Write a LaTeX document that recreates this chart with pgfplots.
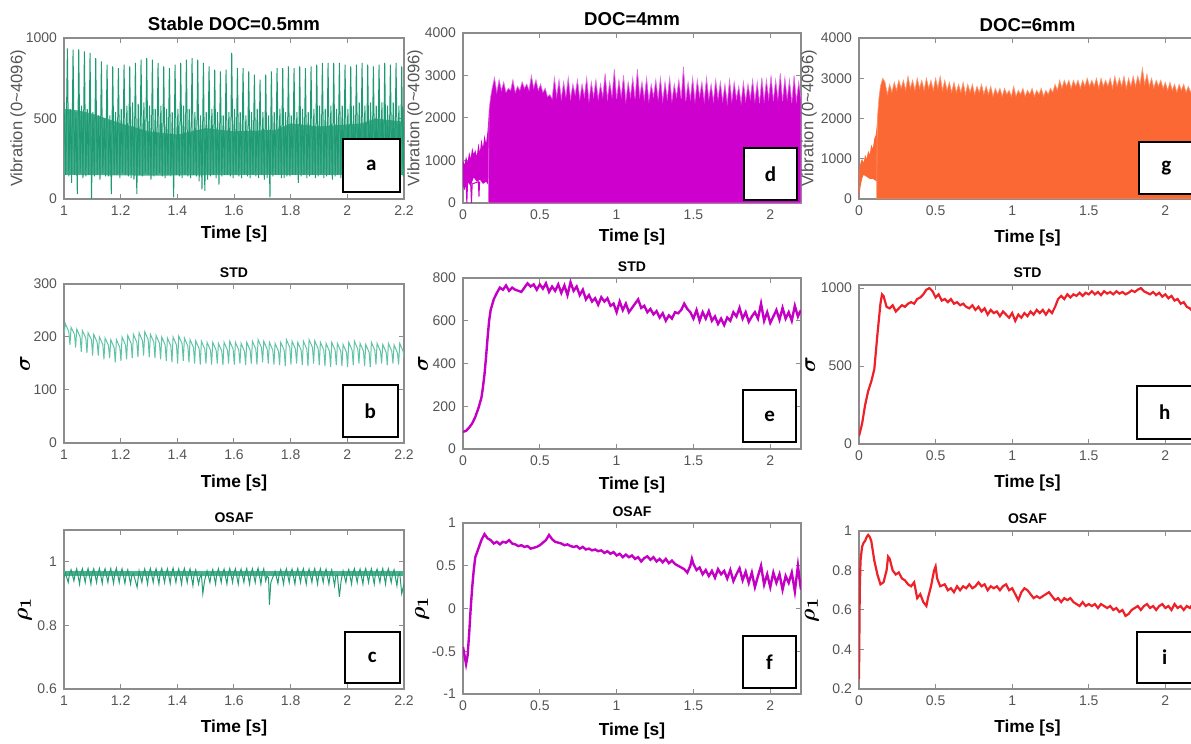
\documentclass[border=0pt]{standalone}
\usepackage{fontspec}
\setmainfont{Liberation Sans}
\newfontfamily\letterfont{Carlito}
\usepackage{amsmath}
\usepackage{pgfplots}
\pgfplotsset{compat=1.18}

\definecolor{axgray}{RGB}{140,140,140}
\definecolor{tickgray}{RGB}{85,85,85}
\definecolor{cA}{RGB}{30,155,115}
\definecolor{cB}{RGB}{95,195,165}
\definecolor{cC}{RGB}{35,155,115}
\definecolor{cD}{RGB}{205,0,205}
\definecolor{cDl}{RGB}{225,110,225}
\definecolor{cE}{RGB}{195,0,195}
\definecolor{cG}{RGB}{252,104,52}
\definecolor{cGl}{RGB}{252,150,110}
\definecolor{cH}{RGB}{238,32,40}

\pgfplotsset{
  every axis title shift=0pt,
  panel/.style={scale only axis, anchor=south west,
    axis line style={draw=axgray, line width=0.6pt},
    tick style={draw=axgray, line width=0.5pt},
    tick align=inside, major tick length=2.5pt,
    tick label style={font=\fontsize{7}{8}\selectfont, text=tickgray},
    /pgf/number format/1000 sep={},
    /pgf/number format/assume math mode=true,
    xlabel={Time [s]},
    xlabel style={font=\bfseries\fontsize{8.7}{10}\selectfont, anchor=center},
    ylabel style={anchor=center},
    title style={font=\bfseries\fontsize{7}{8}\selectfont, anchor=center, yshift=0pt},
  },
  vib/.style={ylabel={Vibration (0\textasciitilde4096)}, ylabel style={font=\fontsize{8.3}{9}\selectfont, text=tickgray},
    title style={font=\bfseries\fontsize{9.3}{11}\selectfont}},
  col1/.style={width=170pt, xmin=1, xmax=2.2, xtick={1,1.2,1.4,1.6,1.8,2,2.2}},
  col2/.style={width=169pt, xmin=0, xmax=2.2, xtick={0,0.5,1,1.5,2}},
  col3/.style={width=168.5pt, xmin=0, xmax=2.2, xtick={0,0.5,1,1.5,2}},
}
\tikzset{lbl/.style={draw=black, line width=1pt, fill=white, inner sep=0pt,
  minimum width=27.5pt, minimum height=26pt, font=\letterfont\bfseries\fontsize{10.5}{12}\selectfont}}

\begin{document}
\begin{tikzpicture}
\path[use as bounding box] (0,0) rectangle (595.5pt,372pt);
\clip (0,0) rectangle (595.5pt,372pt);

% ---------------- a ----------------
\begin{axis}[panel, vib, col1, at={(32pt,272.5pt)}, height=80.5pt,
  ymin=0, ymax=1000, ytick={0,500,1000},
  title={Stable DOC=0.5mm}, title style={at={(axis description cs:0.5,1.087)}},
  ylabel style={at={(axis description cs:-0.135,0.5)}},
  xlabel style={at={(axis description cs:0.5,-0.22)}}]
\addplot[fill=cA!80!white, draw=none] coordinates {(1,150) (1.3,145) (1.7,150) (2.2,150) (2.2,480) (2.1,500) (2.05,470) (1.9,450) (1.8,470) (1.75,430) (1.6,420) (1.5,440) (1.4,400) (1.3,420) (1.2,470) (1.1,530) (1.05,550) (1,560)} -- cycle;
\addplot[cA, line width=0.5pt] coordinates {
(1.000,600)(1.006,150)
(1.012,935)(1.017,140)(1.022,560)(1.027,100)
(1.032,927)(1.037,150)(1.042,540)(1.047,30)
(1.052,930)(1.057,160)(1.062,580)(1.067,130)
(1.072,917)(1.077,140)(1.082,560)(1.087,150)
(1.092,907)(1.097,0)(1.102,540)(1.107,140)
(1.112,875)(1.117,150)(1.122,520)(1.127,120)
(1.132,855)(1.137,160)(1.142,500)(1.147,140)
(1.152,834)(1.157,140)(1.162,520)(1.167,30)
(1.172,824)(1.177,150)(1.182,540)(1.187,150)
(1.192,813)(1.197,130)(1.202,560)(1.207,160)
(1.212,834)(1.217,150)(1.222,580)(1.227,140)
(1.232,824)(1.237,130)(1.242,600)(1.247,120)
(1.252,845)(1.257,30)(1.262,590)(1.267,150)
(1.272,865)(1.277,140)(1.282,600)(1.287,160)
(1.292,875)(1.297,150)(1.302,580)(1.307,120)
(1.312,865)(1.317,140)(1.322,560)(1.327,150)
(1.332,845)(1.337,160)(1.342,580)(1.347,140)
(1.352,824)(1.357,130)(1.362,560)(1.367,150)
(1.372,813)(1.377,140)(1.382,540)(1.387,10)
(1.392,834)(1.397,150)(1.402,560)(1.407,140)
(1.412,845)(1.417,130)(1.422,580)(1.427,150)
(1.432,865)(1.437,140)(1.442,560)(1.447,130)
(1.452,875)(1.457,150)(1.462,540)(1.467,140)
(1.472,865)(1.477,110)(1.482,520)(1.487,60)
(1.492,845)(1.497,50)(1.502,540)(1.507,120)
(1.512,824)(1.517,140)(1.522,560)(1.527,150)
(1.532,803)(1.537,130)(1.542,540)(1.547,90)
(1.552,793)(1.557,140)(1.562,520)(1.567,150)
(1.572,803)(1.577,150)(1.582,540)(1.587,140)
(1.592,907)(1.597,130)(1.602,560)(1.607,150)
(1.612,813)(1.617,140)(1.622,540)(1.627,130)
(1.632,813)(1.637,150)(1.642,520)(1.647,140)
(1.652,793)(1.657,130)(1.662,540)(1.667,150)
(1.672,772)(1.677,140)(1.682,560)(1.687,130)
(1.692,741)(1.697,150)(1.702,540)(1.707,120)
(1.712,772)(1.717,130)(1.722,520)(1.727,10)
(1.732,793)(1.737,140)(1.742,540)(1.747,150)
(1.752,813)(1.757,150)(1.762,560)(1.767,130)
(1.772,813)(1.777,130)(1.782,540)(1.787,140)
(1.792,824)(1.797,140)(1.802,520)(1.807,150)
(1.812,813)(1.817,150)(1.822,540)(1.827,100)
(1.832,824)(1.837,140)(1.842,560)(1.847,150)
(1.852,813)(1.857,130)(1.862,540)(1.867,140)
(1.872,824)(1.877,150)(1.882,560)(1.887,130)
(1.892,834)(1.897,140)(1.902,580)(1.907,150)
(1.912,845)(1.917,130)(1.922,560)(1.927,140)
(1.932,845)(1.937,150)(1.942,580)(1.947,120)
(1.952,845)(1.957,140)(1.962,560)(1.967,150)
(1.972,845)(1.977,130)(1.982,580)(1.987,140)
(1.992,834)(1.997,150)(2.002,560)(2.007,130)
(2.012,824)(2.017,140)(2.022,580)(2.027,150)
(2.032,834)(2.037,130)(2.042,600)(2.047,140)
(2.052,845)(2.057,150)(2.062,580)(2.067,130)
(2.072,834)(2.077,140)(2.082,600)(2.087,150)
(2.092,824)(2.097,130)(2.102,580)(2.107,140)
(2.112,834)(2.117,150)(2.122,600)(2.127,130)
(2.132,845)(2.137,140)(2.142,580)(2.147,150)
(2.152,834)(2.157,130)(2.162,600)(2.167,140)
(2.172,845)(2.177,150)(2.182,580)(2.187,130)
(2.192,824)(2.197,140)(2.200,560)};
\node[lbl, minimum width=28.5pt, minimum height=26.5pt] at (rel axis cs:0.904,0.208) {a};
\end{axis}

% ---------------- b ----------------
\begin{axis}[panel, col1, at={(32pt,150.5pt)}, height=79.5pt,
  ymin=0, ymax=300, ytick={0,100,200,300},
  title={STD}, title style={at={(axis description cs:0.5,1.07)}},
  ylabel={$\boldsymbol{\sigma}$}, ylabel style={font=\fontsize{11}{12}\selectfont, at={(axis description cs:-0.115,0.5)}},
  xlabel style={at={(axis description cs:0.5,-0.25)}}]
\addplot[cB, line width=0.5pt] coordinates {
(1.000,205)
(1.005,225)(1.017,210)(1.021,185)
(1.025,218)(1.037,205)(1.041,180)
(1.045,215)(1.057,200)(1.061,172)
(1.065,212)(1.077,198)(1.081,170)
(1.085,208)(1.097,195)(1.101,165)
(1.105,205)(1.117,190)(1.121,165)
(1.125,200)(1.137,186)(1.141,158)
(1.145,198)(1.157,184)(1.161,160)
(1.165,195)(1.177,180)(1.181,152)
(1.185,195)(1.197,180)(1.201,155)
(1.205,200)(1.217,185)(1.221,158)
(1.225,203)(1.237,188)(1.241,160)
(1.245,205)(1.257,190)(1.261,162)
(1.265,208)(1.277,193)(1.281,165)
(1.285,210)(1.297,195)(1.301,162)
(1.305,205)(1.317,190)(1.321,160)
(1.325,203)(1.337,188)(1.341,158)
(1.345,200)(1.357,185)(1.361,155)
(1.365,198)(1.377,183)(1.381,152)
(1.385,200)(1.397,185)(1.401,150)
(1.405,202)(1.417,187)(1.421,155)
(1.425,198)(1.437,183)(1.441,152)
(1.445,195)(1.457,180)(1.461,150)
(1.465,193)(1.477,178)(1.481,148)
(1.485,192)(1.497,177)(1.501,150)
(1.505,190)(1.517,175)(1.521,148)
(1.525,190)(1.537,175)(1.541,150)
(1.545,188)(1.557,173)(1.561,147)
(1.565,190)(1.577,175)(1.581,150)
(1.585,192)(1.597,177)(1.601,148)
(1.605,190)(1.617,175)(1.621,150)
(1.625,188)(1.637,173)(1.641,147)
(1.645,190)(1.657,175)(1.661,150)
(1.665,192)(1.677,177)(1.681,148)
(1.685,195)(1.697,180)(1.701,152)
(1.705,192)(1.717,177)(1.721,150)
(1.725,190)(1.737,175)(1.741,148)
(1.745,188)(1.757,173)(1.761,147)
(1.765,190)(1.777,175)(1.781,145)
(1.785,195)(1.797,180)(1.801,148)
(1.805,192)(1.817,177)(1.821,150)
(1.825,190)(1.837,175)(1.841,147)
(1.845,192)(1.857,177)(1.861,145)
(1.865,195)(1.877,180)(1.881,150)
(1.885,193)(1.897,178)(1.901,147)
(1.905,190)(1.917,175)(1.921,145)
(1.925,188)(1.937,173)(1.941,143)
(1.945,190)(1.957,175)(1.961,147)
(1.965,188)(1.977,173)(1.981,145)
(1.985,186)(1.997,171)(2.001,143)
(2.005,190)(2.017,175)(2.021,147)
(2.025,192)(2.037,177)(2.041,150)
(2.045,188)(2.057,173)(2.061,145)
(2.065,186)(2.077,171)(2.081,143)
(2.085,190)(2.097,175)(2.101,148)
(2.105,188)(2.117,173)(2.121,150)
(2.125,186)(2.137,171)(2.141,147)
(2.145,188)(2.157,173)(2.161,150)
(2.165,185)(2.177,170)(2.181,148)
(2.185,188)(2.197,173)(2.200,160)};
\node[lbl, minimum width=27.5pt, minimum height=26pt] at (rel axis cs:0.901,0.201) {b};
\end{axis}

% ---------------- c ----------------
\begin{axis}[panel, col1, at={(32pt,27.5pt)}, height=79.5pt,
  ymin=0.6, ymax=1.1, ytick={0.6,0.8,1},
  title={OSAF}, title style={at={(axis description cs:0.5,1.075)}},
  ylabel={$\boldsymbol{\rho_1}$}, ylabel style={font=\fontsize{11}{12}\selectfont, at={(axis description cs:-0.115,0.5)}},
  xlabel style={at={(axis description cs:0.5,-0.245)}}]
\addplot[fill=cC!80!white, draw=none] coordinates {(1,0.955)(2.2,0.955)(2.2,0.972)(1,0.972)} -- cycle;
\addplot[cC, line width=0.5pt] coordinates {
(1.000,0.950)
(1.005,0.965)(1.015,0.935)(1.019,0.960)
(1.025,0.975)(1.035,0.940)(1.039,0.960)
(1.045,0.978)(1.055,0.930)(1.059,0.962)
(1.065,0.978)(1.075,0.935)(1.079,0.960)
(1.085,0.979)(1.095,0.930)(1.099,0.962)
(1.105,0.978)(1.115,0.935)(1.119,0.960)
(1.125,0.979)(1.135,0.932)(1.139,0.962)
(1.145,0.978)(1.155,0.935)(1.159,0.960)
(1.165,0.979)(1.175,0.932)(1.179,0.962)
(1.185,0.980)(1.195,0.935)(1.199,0.960)
(1.205,0.978)(1.215,0.932)(1.219,0.958)
(1.225,0.975)(1.235,0.930)(1.239,0.955)
(1.245,0.962)(1.252,0.940)(1.258,0.920)
(1.265,0.972)(1.275,0.935)(1.279,0.960)
(1.285,0.978)(1.295,0.930)(1.299,0.962)
(1.305,0.979)(1.315,0.935)(1.319,0.960)
(1.325,0.978)(1.335,0.930)(1.339,0.962)
(1.345,0.979)(1.355,0.935)(1.359,0.960)
(1.365,0.978)(1.375,0.932)(1.379,0.962)
(1.385,0.980)(1.395,0.935)(1.399,0.960)
(1.405,0.978)(1.415,0.930)(1.419,0.962)
(1.425,0.979)(1.435,0.935)(1.439,0.960)
(1.445,0.978)(1.455,0.925)(1.459,0.958)
(1.465,0.975)(1.475,0.930)(1.479,0.950)
(1.485,0.960)(1.490,0.900)(1.496,0.940)
(1.505,0.972)(1.515,0.935)(1.519,0.958)
(1.525,0.976)(1.535,0.930)(1.539,0.960)
(1.545,0.978)(1.555,0.935)(1.559,0.962)
(1.565,0.977)(1.575,0.930)(1.579,0.960)
(1.585,0.979)(1.595,0.935)(1.599,0.962)
(1.605,0.978)(1.615,0.930)(1.619,0.960)
(1.625,0.977)(1.635,0.935)(1.639,0.962)
(1.645,0.979)(1.655,0.930)(1.659,0.960)
(1.665,0.978)(1.675,0.935)(1.679,0.962)
(1.685,0.980)(1.695,0.930)(1.699,0.960)
(1.705,0.978)(1.712,0.940)(1.716,0.955)
(1.722,0.950)(1.725,0.865)(1.730,0.935)
(1.745,0.970)(1.755,0.932)(1.759,0.958)
(1.765,0.976)(1.775,0.930)(1.779,0.960)
(1.785,0.978)(1.795,0.935)(1.799,0.962)
(1.805,0.977)(1.815,0.930)(1.819,0.960)
(1.825,0.979)(1.835,0.935)(1.839,0.962)
(1.845,0.978)(1.855,0.930)(1.859,0.960)
(1.865,0.977)(1.875,0.935)(1.879,0.962)
(1.885,0.979)(1.895,0.930)(1.899,0.960)
(1.905,0.978)(1.915,0.935)(1.919,0.962)
(1.925,0.977)(1.935,0.930)(1.939,0.958)
(1.945,0.975)(1.955,0.925)(1.959,0.955)
(1.965,0.958)(1.972,0.890)(1.978,0.940)
(1.985,0.972)(1.995,0.935)(1.999,0.960)
(2.005,0.976)(2.015,0.930)(2.019,0.962)
(2.025,0.978)(2.035,0.935)(2.039,0.960)
(2.045,0.977)(2.055,0.930)(2.059,0.962)
(2.065,0.979)(2.075,0.935)(2.079,0.960)
(2.085,0.978)(2.095,0.930)(2.099,0.962)
(2.105,0.977)(2.115,0.935)(2.119,0.960)
(2.125,0.979)(2.135,0.930)(2.139,0.962)
(2.145,0.978)(2.155,0.935)(2.159,0.958)
(2.165,0.975)(2.175,0.925)(2.179,0.955)
(2.185,0.965)(2.192,0.900)(2.200,0.930)};
\node[lbl, minimum width=27.5pt, minimum height=25.5pt] at (rel axis cs:0.907,0.198) {c};
\end{axis}

% ---------------- d ----------------
\begin{axis}[panel, vib, col2, at={(231.5pt,270.5pt)}, height=85pt,
  ymin=0, ymax=4000, ytick={0,1000,2000,3000,4000},
  title={DOC=4mm}, title style={at={(axis description cs:0.5,1.082)}},
  ylabel style={at={(axis description cs:-0.142,0.5)}},
  xlabel style={at={(axis description cs:0.5,-0.2)}}]
\addplot[fill=cD, draw=none] coordinates {
(0,1000)(0.01,900)(0.02,1100)(0.03,950)(0.04,1200)(0.05,1050)(0.06,1300)(0.07,1150)(0.08,1250)
(0.09,1100)(0.10,1400)(0.11,1200)(0.12,1500)(0.13,1300)(0.14,1600)(0.15,1400)(0.16,1700)(0.17,2200)
(0.17,400)(0.15,500)(0.13,450)(0.11,550)(0.09,500)(0.07,600)(0.05,400)(0.03,500)(0.01,300)(0,400)} -- cycle;
\addplot[cD, line width=0.5pt] coordinates {(0.02,500)(0.025,0)(0.03,500)(0.05,450)(0.055,0)(0.06,450)(0.1,500)(0.104,150)(0.108,500)};
\addplot[fill=cD, draw=cDl, line width=0.3pt] coordinates {
(0.165,0)(0.17,2200)(0.18,2500)
(0.19,2700)(0.205,2950)(0.22,2600)(0.235,2900)(0.25,2650)(0.265,2850)(0.28,2600)(0.295,2700)
(0.31,2650)(0.325,2900)(0.34,2600)(0.355,2750)(0.37,2650)(0.385,2850)(0.40,2700)(0.415,2800)
(0.43,2650)(0.445,3000)(0.46,2700)(0.475,2900)(0.49,2650)(0.505,2800)(0.52,2600)(0.535,2700)
(0.55,2500)(0.565,2550)(0.58,2450)(0.595,2950)(0.61,2500)(0.625,2900)(0.64,2450)(0.655,2850)
(0.67,2500)(0.685,2950)(0.70,2450)(0.715,2800)(0.73,2550)(0.745,2900)(0.76,2450)(0.775,2800)
(0.79,2500)(0.805,2950)(0.82,2400)(0.835,2850)(0.85,2500)(0.865,2900)(0.88,2450)(0.895,2800)
(0.91,2500)(0.925,3050)(0.94,2450)(0.955,2850)(0.97,2500)(0.985,3150)(1.00,2450)(1.015,2900)
(1.03,2500)(1.045,3000)(1.06,2400)(1.075,2850)(1.09,2500)(1.105,2950)(1.12,2450)(1.135,3150)
(1.15,2500)(1.165,2850)(1.18,2450)(1.195,2950)(1.21,2400)(1.225,2800)(1.24,2500)(1.255,2900)
(1.27,2450)(1.285,2950)(1.30,2400)(1.315,2850)(1.33,2450)(1.345,2950)(1.36,2400)(1.375,2800)
(1.39,2500)(1.405,2900)(1.42,2450)(1.435,3200)(1.45,2400)(1.465,2850)(1.48,2450)(1.495,2950)
(1.51,2400)(1.525,2900)(1.54,2500)(1.555,2850)(1.57,2400)(1.585,2950)(1.60,2450)(1.615,2800)
(1.63,2400)(1.645,2900)(1.66,2450)(1.675,2850)(1.69,2400)(1.705,2800)(1.72,2350)(1.735,2900)
(1.75,2400)(1.765,2850)(1.78,2450)(1.795,2750)(1.81,2350)(1.825,2850)(1.84,2400)(1.855,2800)
(1.87,2450)(1.885,2900)(1.90,2400)(1.915,2850)(1.93,2350)(1.945,2950)(1.96,2400)(1.975,2900)
(1.99,2450)(2.005,3000)(2.02,2400)(2.035,2900)(2.05,2450)(2.065,3050)(2.08,2400)(2.095,2950)
(2.11,2450)(2.125,2900)(2.14,2350)(2.155,3000)(2.17,2400)(2.185,2850)(2.20,2450)(2.20,0)} -- cycle;
\node[lbl, minimum width=26.5pt, minimum height=26pt] at (rel axis cs:0.91,0.17) {d};
\end{axis}

% ---------------- e ----------------
\begin{axis}[panel, col2, at={(231.5pt,147.5pt)}, height=85.5pt,
  ymin=0, ymax=800, ytick={0,200,400,600,800},
  title={STD}, title style={at={(axis description cs:0.5,1.064)}},
  ylabel={$\boldsymbol{\sigma}$}, ylabel style={font=\fontsize{11}{12}\selectfont, at={(axis description cs:-0.118,0.5)}},
  xlabel style={at={(axis description cs:0.5,-0.21)}}]
\addplot[cE, line width=1.2pt] coordinates {
(0,80)(0.02,85)(0.04,100)(0.06,120)(0.08,150)(0.10,190)(0.12,240)(0.13,290)(0.14,350)(0.15,430)
(0.16,520)(0.17,600)(0.18,650)(0.20,700)(0.22,730)(0.24,755)(0.26,745)(0.28,765)(0.30,740)(0.32,755)
(0.34,745)(0.36,740)(0.38,735)(0.40,755)(0.42,775)(0.44,760)(0.46,770)(0.48,745)(0.50,770)(0.52,750)
(0.54,775)(0.56,735)(0.58,760)(0.60,740)(0.62,770)(0.64,730)(0.66,765)(0.68,720)(0.70,780)(0.72,740)
(0.74,760)(0.76,720)(0.78,745)(0.80,700)(0.82,720)(0.84,690)(0.86,705)(0.88,675)(0.90,710)(0.92,690)
(0.94,705)(0.96,670)(0.98,680)(1.00,640)(1.02,690)(1.04,650)(1.06,680)(1.08,640)(1.10,660)(1.12,680)
(1.14,700)(1.16,660)(1.18,670)(1.20,640)(1.22,655)(1.24,630)(1.26,645)(1.28,615)(1.30,635)(1.32,600)
(1.34,625)(1.36,610)(1.38,640)(1.40,635)(1.42,650)(1.44,680)(1.46,655)(1.48,640)(1.50,610)(1.52,650)
(1.54,600)(1.56,640)(1.58,610)(1.60,645)(1.62,600)(1.64,620)(1.66,585)(1.68,610)(1.70,580)(1.72,615)
(1.74,600)(1.76,640)(1.78,620)(1.80,660)(1.82,610)(1.84,640)(1.86,595)(1.88,620)(1.90,640)(1.92,610)
(1.94,680)(1.96,600)(1.98,640)(2.00,590)(2.02,620)(2.04,650)(2.06,605)(2.08,660)(2.10,610)(2.12,640)
(2.14,600)(2.16,670)(2.18,620)(2.20,650)};
\node[lbl, minimum width=26.5pt, minimum height=26pt] at (rel axis cs:0.907,0.193) {e};
\end{axis}

% ---------------- f ----------------
\begin{axis}[panel, col2, at={(231.5pt,25pt)}, height=85.5pt,
  ymin=-1, ymax=1, ytick={-1,-0.5,0,0.5,1},
  title={OSAF}, title style={at={(axis description cs:0.5,1.064)}},
  ylabel={$\boldsymbol{\rho_1}$}, ylabel style={font=\fontsize{11}{12}\selectfont, at={(axis description cs:-0.121,0.5)}},
  xlabel style={at={(axis description cs:0.5,-0.216)}}]
\addplot[cE, line width=1.2pt] coordinates {
(0,-0.45)(0.01,-0.55)(0.02,-0.65)(0.03,-0.55)(0.04,-0.30)(0.05,0.00)(0.06,0.25)(0.07,0.45)(0.08,0.60)
(0.10,0.70)(0.12,0.80)(0.14,0.87)(0.16,0.82)(0.18,0.80)(0.20,0.76)(0.22,0.78)(0.24,0.75)(0.26,0.78)
(0.28,0.77)(0.30,0.80)(0.32,0.76)(0.34,0.75)(0.36,0.73)(0.38,0.74)(0.40,0.72)(0.42,0.73)(0.44,0.70)
(0.46,0.71)(0.48,0.72)(0.50,0.74)(0.52,0.77)(0.54,0.80)(0.56,0.86)(0.58,0.81)(0.60,0.78)(0.62,0.77)
(0.64,0.76)(0.66,0.74)(0.68,0.75)(0.70,0.73)(0.72,0.72)(0.74,0.73)(0.76,0.70)(0.78,0.72)(0.80,0.69)
(0.82,0.70)(0.84,0.68)(0.86,0.69)(0.88,0.67)(0.90,0.68)(0.92,0.65)(0.94,0.67)(0.96,0.64)(0.98,0.66)
(1.00,0.62)(1.02,0.64)(1.04,0.60)(1.06,0.63)(1.08,0.60)(1.10,0.62)(1.12,0.58)(1.14,0.60)(1.16,0.55)
(1.18,0.59)(1.20,0.61)(1.22,0.57)(1.24,0.60)(1.26,0.55)(1.28,0.58)(1.30,0.54)(1.32,0.58)(1.34,0.53)
(1.36,0.56)(1.38,0.52)(1.40,0.50)(1.42,0.48)(1.44,0.46)(1.46,0.42)(1.48,0.50)(1.49,0.58)(1.50,0.52)
(1.52,0.45)(1.54,0.48)(1.56,0.40)(1.58,0.45)(1.60,0.38)(1.62,0.44)(1.64,0.36)(1.66,0.46)(1.68,0.40)
(1.70,0.44)(1.72,0.35)(1.74,0.45)(1.76,0.32)(1.78,0.40)(1.80,0.47)(1.82,0.33)(1.84,0.43)(1.86,0.30)
(1.88,0.42)(1.90,0.25)(1.92,0.38)(1.94,0.50)(1.96,0.28)(1.98,0.40)(2.00,0.25)(2.02,0.42)(2.04,0.30)
(2.06,0.40)(2.08,0.22)(2.10,0.38)(2.12,0.30)(2.14,0.42)(2.16,0.20)(2.18,0.50)(2.19,0.35)(2.20,0.22)};
\node[lbl, minimum width=26.5pt, minimum height=26pt] at (rel axis cs:0.907,0.187) {f};
\end{axis}

% ---------------- g ----------------
\begin{axis}[panel, vib, col3, at={(429.5pt,272.5pt)}, height=80.5pt,
  ymin=0, ymax=4000, ytick={0,1000,2000,3000,4000},
  title={DOC=6mm}, title style={at={(axis description cs:0.5,1.08)}},
  ylabel style={at={(axis description cs:-0.148,0.5)}},
  xlabel style={at={(axis description cs:0.5,-0.24)}}]
\addplot[fill=cG, draw=none] coordinates {
(0,0)(0,700)(0.01,900)(0.02,1000)(0.03,900)(0.04,1100)(0.05,1000)(0.06,1200)(0.07,1100)(0.08,1350)
(0.09,1250)(0.10,1500)(0.11,1600)(0.12,2000)
(0.12,400)(0.11,450)(0.09,500)(0.07,500)(0.05,550)(0.03,600)(0.02,500)(0.01,300)} -- cycle;
\addplot[fill=cG, draw=cGl, line width=0.3pt] coordinates {
(0.115,0)(0.12,2000)(0.13,2500)(0.14,2800)(0.155,3000)(0.17,2900)
(0.185,2600)(0.20,2850)(0.215,2650)(0.23,2900)(0.245,2700)(0.26,2950)(0.275,2750)(0.29,2950)
(0.305,2700)(0.32,3050)(0.335,2750)(0.35,2950)(0.365,2700)(0.38,3000)(0.395,2750)(0.41,2950)
(0.425,2700)(0.44,3000)(0.455,2750)(0.47,2950)(0.485,2700)(0.50,3000)(0.515,2750)(0.53,3050)
(0.545,2700)(0.56,2950)(0.575,2700)(0.59,2900)(0.605,2650)(0.62,2900)(0.635,2650)(0.65,2850)
(0.665,2650)(0.68,2900)(0.695,2600)(0.71,2850)(0.725,2650)(0.74,2850)(0.755,2600)(0.77,2800)
(0.785,2650)(0.80,2850)(0.815,2600)(0.83,2800)(0.845,2600)(0.86,2800)(0.875,2550)(0.89,2750)
(0.905,2600)(0.92,2750)(0.935,2550)(0.95,2750)(0.965,2600)(0.98,2700)(0.995,2550)(1.01,2800)
(1.025,2550)(1.04,2700)(1.055,2600)(1.07,2750)(1.085,2550)(1.10,2700)(1.115,2600)(1.13,2750)
(1.145,2550)(1.16,2700)(1.175,2600)(1.19,2750)(1.205,2550)(1.22,2700)(1.235,2600)(1.25,2750)
(1.265,2650)(1.28,2850)(1.295,2700)(1.31,2950)(1.325,2750)(1.34,2950)(1.355,2800)(1.37,2950)
(1.385,2750)(1.40,2950)(1.415,2800)(1.43,2950)(1.445,2750)(1.46,2950)(1.475,2800)(1.49,3000)
(1.505,2800)(1.52,2950)(1.535,2800)(1.55,3000)(1.565,2750)(1.58,3000)(1.595,2800)(1.61,2950)
(1.625,2800)(1.64,3000)(1.655,2750)(1.67,3050)(1.685,2800)(1.70,3000)(1.715,2800)(1.73,3050)
(1.745,2750)(1.76,3000)(1.775,2800)(1.79,3050)(1.805,2800)(1.82,3050)(1.835,2850)(1.85,3250)
(1.865,2850)(1.88,3100)(1.895,2800)(1.91,3000)(1.925,2750)(1.94,2950)(1.955,2800)(1.97,2950)
(1.985,2750)(2.00,2900)(2.015,2700)(2.03,2900)(2.045,2700)(2.06,2850)(2.075,2650)(2.09,2850)
(2.105,2700)(2.12,2850)(2.135,2650)(2.15,2800)(2.165,2650)(2.18,2800)(2.195,2650)(2.20,2750)(2.20,0)} -- cycle;
\node[lbl, minimum width=27.5pt, minimum height=26pt] at (rel axis cs:0.912,0.193) {g};
\end{axis}

% ---------------- h ----------------
\begin{axis}[panel, col3, at={(429.5pt,150pt)}, height=79.5pt,
  ymin=0, ymax=1020, ytick={0,500,1000},
  title={STD}, title style={at={(axis description cs:0.5,1.075)}},
  ylabel={$\boldsymbol{\sigma}$}, ylabel style={font=\fontsize{11}{12}\selectfont, at={(axis description cs:-0.145,0.5)}},
  xlabel style={at={(axis description cs:0.5,-0.245)}}]
\addplot[cH, line width=1.1pt] coordinates {
(0,50)(0.02,130)(0.04,250)(0.06,340)(0.08,400)(0.10,480)(0.12,700)(0.14,900)(0.15,960)(0.16,950)
(0.18,880)(0.20,870)(0.22,890)(0.24,850)(0.26,870)(0.28,890)(0.30,880)(0.32,900)(0.34,910)(0.36,900)
(0.38,930)(0.40,940)(0.42,960)(0.44,990)(0.46,1000)(0.48,980)(0.50,940)(0.52,960)(0.54,920)(0.56,930)
(0.58,910)(0.60,930)(0.62,900)(0.64,910)(0.66,890)(0.68,900)(0.70,880)(0.72,870)(0.74,890)(0.76,860)
(0.78,880)(0.80,850)(0.82,870)(0.84,830)(0.86,860)(0.88,840)(0.90,850)(0.92,820)(0.94,850)(0.96,830)
(0.98,810)(1.00,840)(1.02,790)(1.04,830)(1.06,810)(1.08,840)(1.10,820)(1.12,850)(1.14,830)(1.16,860)
(1.18,840)(1.20,860)(1.22,830)(1.24,860)(1.26,840)(1.28,880)(1.30,930)(1.32,950)(1.34,930)(1.36,960)
(1.38,940)(1.40,960)(1.42,950)(1.44,970)(1.46,950)(1.48,970)(1.50,960)(1.52,980)(1.54,960)(1.56,975)
(1.58,955)(1.60,980)(1.62,965)(1.64,975)(1.66,960)(1.68,980)(1.70,965)(1.72,975)(1.74,960)(1.76,970)
(1.78,985)(1.80,975)(1.82,990)(1.84,1000)(1.86,980)(1.88,970)(1.90,960)(1.92,975)(1.94,955)(1.96,970)
(1.98,945)(2.00,960)(2.02,935)(2.04,950)(2.06,920)(2.08,930)(2.10,900)(2.12,910)(2.14,880)(2.16,870)
(2.18,850)(2.20,840)};
\node[lbl, minimum width=27.5pt, minimum height=26.5pt] at (rel axis cs:0.907,0.198) {h};
\end{axis}

% ---------------- i ----------------
\begin{axis}[panel, col3, at={(429.5pt,27.5pt)}, height=79pt,
  ymin=0.2, ymax=1, ytick={0.2,0.4,0.6,0.8,1},
  title={OSAF}, title style={at={(axis description cs:0.5,1.08)}},
  ylabel={$\boldsymbol{\rho_1}$}, ylabel style={font=\fontsize{11}{12}\selectfont, at={(axis description cs:-0.14,0.5)}},
  xlabel style={at={(axis description cs:0.5,-0.245)}}]
\addplot[cH, line width=1.1pt] coordinates {
(0,0.25)(0.005,0.70)(0.01,0.85)(0.02,0.92)(0.03,0.94)(0.04,0.95)(0.05,0.97)(0.06,0.98)(0.07,0.97)
(0.08,0.95)(0.09,0.90)(0.10,0.85)(0.12,0.78)(0.14,0.73)(0.16,0.74)(0.18,0.80)(0.19,0.87)(0.20,0.86)
(0.22,0.80)(0.24,0.78)(0.26,0.79)(0.28,0.76)(0.30,0.75)(0.32,0.73)(0.34,0.72)(0.36,0.74)(0.37,0.70)
(0.38,0.66)(0.40,0.68)(0.42,0.64)(0.44,0.62)(0.45,0.66)(0.47,0.72)(0.49,0.80)(0.50,0.82)(0.51,0.76)
(0.53,0.72)(0.56,0.73)(0.58,0.70)(0.60,0.71)(0.62,0.69)(0.64,0.72)(0.66,0.70)(0.68,0.72)(0.70,0.71)
(0.72,0.73)(0.74,0.71)(0.76,0.72)(0.78,0.74)(0.80,0.72)(0.82,0.73)(0.84,0.70)(0.86,0.72)(0.88,0.71)
(0.90,0.72)(0.92,0.70)(0.94,0.72)(0.96,0.73)(0.98,0.70)(1.00,0.71)(1.02,0.68)(1.04,0.65)(1.06,0.69)
(1.08,0.71)(1.10,0.70)(1.12,0.68)(1.14,0.66)(1.16,0.67)(1.18,0.66)(1.20,0.67)(1.22,0.68)(1.24,0.69)
(1.26,0.67)(1.28,0.65)(1.30,0.66)(1.32,0.64)(1.34,0.66)(1.36,0.65)(1.38,0.66)(1.40,0.64)(1.42,0.63)
(1.44,0.62)(1.46,0.64)(1.48,0.62)(1.50,0.63)(1.52,0.62)(1.54,0.63)(1.56,0.61)(1.58,0.63)(1.60,0.62)
(1.62,0.61)(1.64,0.62)(1.66,0.60)(1.68,0.61)(1.70,0.59)(1.72,0.60)(1.74,0.57)(1.76,0.58)(1.78,0.60)
(1.80,0.61)(1.82,0.62)(1.84,0.60)(1.86,0.62)(1.88,0.63)(1.90,0.61)(1.92,0.62)(1.94,0.60)(1.96,0.62)
(1.98,0.63)(2.00,0.61)(2.02,0.62)(2.04,0.60)(2.06,0.63)(2.08,0.61)(2.10,0.62)(2.12,0.60)(2.14,0.62)
(2.16,0.61)(2.18,0.63)(2.20,0.61)};
\node[lbl, minimum width=27.5pt, minimum height=25.5pt] at (rel axis cs:0.907,0.199) {i};
\end{axis}
\end{tikzpicture}
\end{document}
